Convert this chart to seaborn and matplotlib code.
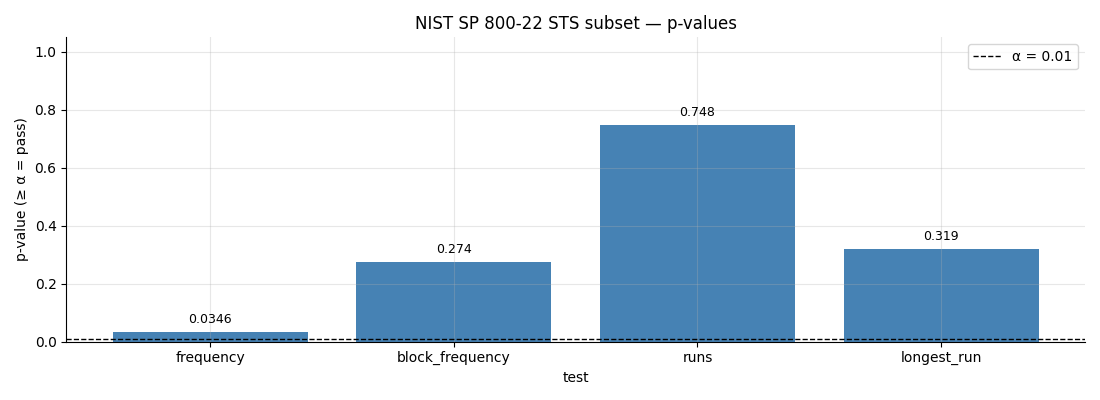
import pandas as pd
import numpy as np
import matplotlib
matplotlib.use('Agg')
import matplotlib.pyplot as plt
import seaborn as sns

# p-values per test
tests = ['frequency', 'block_frequency', 'runs', 'longest_run']
p_values = [0.0346, 0.274, 0.748, 0.319]
alpha = 0.01

df = pd.DataFrame({'test': tests, 'p': p_values})

fig, ax = plt.subplots(figsize=(11, 4), dpi=100)
sns.barplot(data=df, x='test', y='p', color='steelblue', saturation=1, width=0.8, ax=ax)
ax.axhline(alpha, color='black', linestyle='--', linewidth=1, label=f'α = {alpha}')

for i, v in enumerate(p_values):
    ax.text(i, v + 0.02, f'{v:.3g}', ha='center', va='bottom', fontsize=9)

# same padding as plain matplotlib bars (5% margin)
n = len(tests)
pad = 0.05 * (n - 1 + 0.8)
ax.set_xlim(-0.4 - pad, n - 1 + 0.4 + pad)
ax.set_ylim(0, 1.05)
ax.set_xlabel('test')
ax.set_ylabel('p-value (≥ α = pass)')
ax.set_title('NIST SP 800-22 STS subset — p-values')
ax.grid(True, alpha=0.3)
ax.spines['top'].set_visible(False)
ax.spines['right'].set_visible(False)
ax.legend(loc='upper right')

plt.tight_layout()
plt.savefig('out.png')
